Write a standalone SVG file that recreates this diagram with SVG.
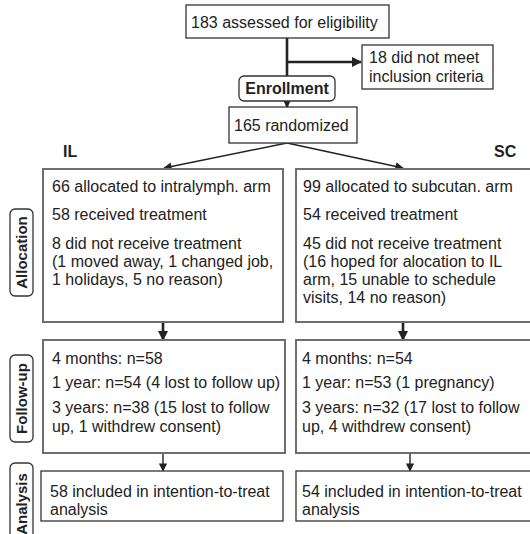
<svg xmlns="http://www.w3.org/2000/svg" width="530" height="534" viewBox="0 0 530 534">
<defs>
<style>
text{font-family:"Liberation Sans",Arial,sans-serif;font-size:16px;fill:#222}
.b{font-weight:bold}
.lab{font-weight:bold;font-size:15px}
.box{fill:#fff;stroke:#333;stroke-width:1.3}
.gbox{fill:#fff;stroke:#6e6e6e;stroke-width:2}
.side{fill:#fff;stroke:#333;stroke-width:1.3}
.thick{stroke:#222;stroke-width:2.6;fill:none}
.thin{stroke:#222;stroke-width:1.4;fill:none}
</style>
<marker id="ah" viewBox="0 0 10 10" refX="9" refY="5" markerWidth="4" markerHeight="4" orient="auto" markerUnits="strokeWidth"><path d="M0,0 L10,5 L0,10 z" fill="#222"/></marker>
<marker id="ahs" viewBox="0 0 10 10" refX="9" refY="5" markerWidth="7" markerHeight="6" orient="auto" markerUnits="strokeWidth"><path d="M0,0 L10,5 L0,10 z" fill="#222"/></marker>
</defs>
<rect width="530" height="534" fill="#fff"/>
<g id="connectors">
<path class="thick" d="M287,38 V76"/>
<path class="thick" d="M287,62 H361" marker-end="url(#ah)"/>
<path class="thick" d="M287,101 V107" marker-end="url(#ah)"/>
<path class="thin" d="M287,143 L164,168" marker-end="url(#ahs)"/>
<path class="thin" d="M287,143 L403,168" marker-end="url(#ahs)"/>
<path class="thick" d="M163,322 V340" marker-end="url(#ah)"/>
<path class="thick" d="M403,322 V340" marker-end="url(#ah)"/>
<path class="thin" d="M163,453 V471" marker-end="url(#ahs)"/>
<path class="thin" d="M410,453 V471" marker-end="url(#ahs)"/>
</g>
<g id="assessed"><rect class="box" x="186" y="5" width="203" height="33"/><text x="191" y="28">183 assessed for eligibility</text></g>
<g id="excluded"><rect class="box" x="362" y="45" width="131" height="44"/><text x="369" y="63">18 did not meet</text><text x="369" y="82">inclusion criteria</text></g>
<g id="enrollment"><rect class="box" x="239" y="76" width="96" height="25" rx="5"/><text class="b" x="287" y="94" text-anchor="middle">Enrollment</text></g>
<g id="randomized"><rect class="box" x="229" y="107" width="128" height="36"/><text x="234" y="131">165 randomized</text></g>
<g id="label-il"><text class="b" x="63" y="157">IL</text></g>
<g id="label-sc"><text class="b" x="494" y="157">SC</text></g>
<g id="side-allocation"><rect class="side" x="10" y="209" width="23" height="87" rx="5"/><text class="lab" transform="translate(27,252.5) rotate(-90)" text-anchor="middle">Allocation</text></g>
<g id="side-followup"><rect class="side" x="10" y="355" width="23" height="87" rx="5"/><text class="lab" transform="translate(27,398.5) rotate(-90)" text-anchor="middle">Follow-up</text></g>
<g id="side-analysis"><rect class="side" x="10" y="463" width="23" height="90" rx="5"/><text class="lab" transform="translate(27,504) rotate(-90)" text-anchor="middle">Analysis</text></g>
<g id="alloc-il"><rect class="gbox" x="43" y="169" width="240" height="153"/>
<text x="52" y="192">66 allocated to intralymph. arm</text>
<text x="52" y="220">58 received treatment</text>
<text x="52" y="249">8 did not receive treatment</text>
<text x="52" y="267">(1 moved away, 1 changed job,</text>
<text x="52" y="285">1 holidays, 5 no reason)</text></g>
<g id="alloc-sc"><rect class="gbox" x="296" y="169" width="240" height="153"/>
<text x="303" y="192">99 allocated to subcutan. arm</text>
<text x="303" y="220">54 received treatment</text>
<text x="303" y="249">45 did not receive treatment</text>
<text x="303" y="267">(16 hoped for alocation to IL</text>
<text x="303" y="285">arm, 15 unable to schedule</text>
<text x="303" y="303">visits, 14 no reason)</text></g>
<g id="follow-il"><rect class="gbox" x="43" y="340" width="242" height="113"/>
<text x="52" y="364">4 months: n=58</text>
<text x="52" y="388">1 year: n=54 (4 lost to follow up)</text>
<text x="52" y="413">3 years: n=38 (15 lost to follow</text>
<text x="52" y="432">up, 1 withdrew consent)</text></g>
<g id="follow-sc"><rect class="gbox" x="296" y="340" width="240" height="113"/>
<text x="302" y="364">4 months: n=54</text>
<text x="302" y="388">1 year: n=53 (1 pregnancy)</text>
<text x="302" y="413">3 years: n=32 (17 lost to follow</text>
<text x="302" y="432">up, 4 withdrew consent)</text></g>
<g id="analysis-il"><rect class="box" x="41" y="471" width="242" height="50"/>
<text x="50" y="497">58 included in intention-to-treat</text>
<text x="50" y="515">analysis</text></g>
<g id="analysis-sc"><rect class="box" x="296" y="471" width="240" height="50"/>
<text x="302" y="497">54 included in intention-to-treat</text>
<text x="302" y="515">analysis</text></g>
</svg>
